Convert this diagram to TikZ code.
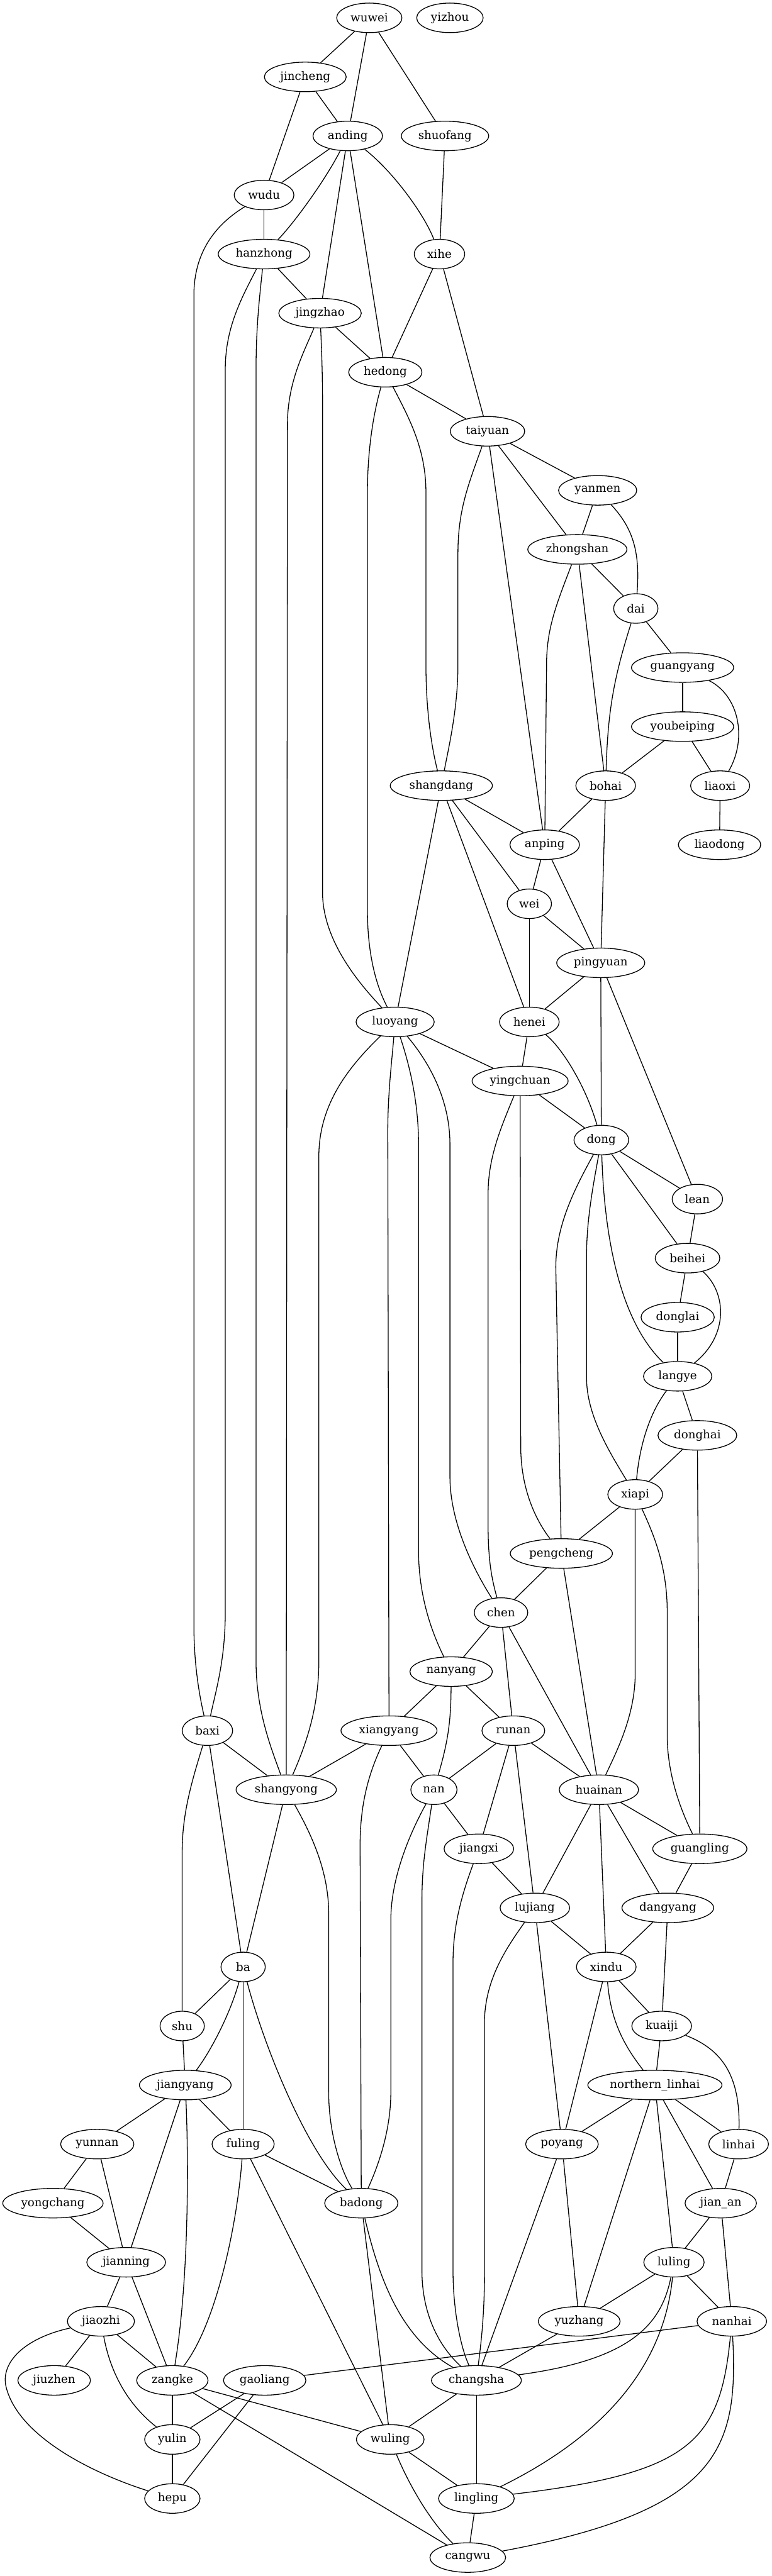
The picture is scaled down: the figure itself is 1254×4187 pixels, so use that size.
\documentclass[tikz,border=0pt]{standalone}
\usepackage{fontspec}
\setmainfont{DejaVu Serif}
\usetikzlibrary{shapes.geometric}
\newcommand{\gvnode}[5]{\node[gv,minimum width=#4*0.75pt] (#1) at (#2,#3) {#5};}
\begin{document}
\begin{tikzpicture}[x=0.75pt,y=-0.75pt,line width=1pt,
  gv/.style={ellipse,draw,line width=1pt,inner sep=0pt,minimum height=36pt,font=\fontsize{14}{16}\selectfont}]
\useasboundingbox (0,0) rectangle (1254,4187);
\gvnode{wuwei}{600}{29}{106}{wuwei}
\gvnode{yizhou}{731}{29}{108}{yizhou}
\gvnode{jincheng}{496}{125}{133}{jincheng}
\gvnode{anding}{565}{221}{113}{anding}
\gvnode{shuofang}{723}{221}{142}{shuofang}
\gvnode{wudu}{429}{317}{97}{wudu}
\gvnode{hanzhong}{429}{413}{149}{hanzhong}
\gvnode{xihe}{714}{413}{82}{xihe}
\gvnode{jingzhao}{520}{509}{134}{jingzhao}
\gvnode{hedong}{626}{605}{119}{hedong}
\gvnode{taiyuan}{792}{701}{121}{taiyuan}
\gvnode{yanmen}{971}{797}{127}{yanmen}
\gvnode{zhongshan}{938}{893}{161}{zhongshan}
\gvnode{dai}{1033}{989}{72}{dai}
\gvnode{guangyang}{1109}{1085}{166}{guangyang}
\gvnode{youbeiping}{1109}{1181}{166}{youbeiping}
\gvnode{shangdang}{717}{1277}{166}{shangdang}
\gvnode{bohai}{984}{1277}{97}{bohai}
\gvnode{liaoxi}{1170}{1277}{96}{liaoxi}
\gvnode{anping}{885}{1373}{113}{anping}
\gvnode{liaodong}{1169}{1373}{134}{liaodong}
\gvnode{wei}{860}{1469}{72}{wei}
\gvnode{pingyuan}{976}{1565}{143}{pingyuan}
\gvnode{luoyang}{642}{1661}{127}{luoyang}
\gvnode{henei}{860}{1661}{97}{henei}
\gvnode{yingchuan}{845}{1757}{156}{yingchuan}
\gvnode{dong}{977}{1853}{89}{dong}
\gvnode{lean}{1133}{1949}{82}{lean}
\gvnode{beihei}{1117}{2045}{105}{beihei}
\gvnode{donglai}{1101}{2141}{119}{donglai}
\gvnode{langye}{1101}{2237}{111}{langye}
\gvnode{donghai}{1133}{2333}{128}{donghai}
\gvnode{xiapi}{1032}{2429}{89}{xiapi}
\gvnode{pengcheng}{912}{2525}{166}{pengcheng}
\gvnode{chen}{814}{2621}{87}{chen}
\gvnode{nanyang}{733}{2717}{134}{nanyang}
\gvnode{baxi}{337}{2813}{82}{baxi}
\gvnode{xiangyang}{632}{2813}{156}{xiangyang}
\gvnode{runan}{834}{2813}{102}{runan}
\gvnode{shangyong}{465}{2909}{163}{shangyong}
\gvnode{nan}{705}{2909}{75}{nan}
\gvnode{huainan}{973}{2909}{129}{huainan}
\gvnode{jiangxi}{778}{3005}{113}{jiangxi}
\gvnode{guangling}{1137}{3005}{153}{guangling}
\gvnode{lujiang}{869}{3101}{113}{lujiang}
\gvnode{dangyang}{1085}{3101}{149}{dangyang}
\gvnode{ba}{395}{3197}{72}{ba}
\gvnode{xindu}{985}{3197}{97}{xindu}
\gvnode{shu}{296}{3293}{72}{shu}
\gvnode{kuaiji}{1075}{3293}{97}{kuaiji}
\gvnode{jiangyang}{301}{3389}{149}{jiangyang}
\gvnode{northernlinhai}{1064}{3389}{218}{northern\_linhai}
\gvnode{yunnan}{158}{3485}{119}{yunnan}
\gvnode{fuling}{395}{3485}{101}{fuling}
\gvnode{poyang}{913}{3485}{118}{poyang}
\gvnode{linhai}{1200}{3485}{97}{linhai}
\gvnode{yongchang}{86}{3581}{163}{yongchang}
\gvnode{badong}{587}{3581}{119}{badong}
\gvnode{jianan}{1171}{3581}{116}{jian\_an}
\gvnode{jianning}{205}{3677}{128}{jianning}
\gvnode{luling}{1095}{3677}{98}{luling}
\gvnode{jiaozhi}{164}{3773}{109}{jiaozhi}
\gvnode{yuzhang}{941}{3773}{133}{yuzhang}
\gvnode{nanhai}{1189}{3773}{113}{nanhai}
\gvnode{jiuzhen}{88}{3869}{118}{jiuzhen}
\gvnode{zangke}{280}{3869}{116}{zangke}
\gvnode{gaoliang}{430}{3869}{134}{gaoliang}
\gvnode{changsha}{774}{3869}{146}{changsha}
\gvnode{yulin}{280}{3965}{90}{yulin}
\gvnode{wuling}{634}{3965}{110}{wuling}
\gvnode{hepu}{280}{4061}{90}{hepu}
\gvnode{lingling}{774}{4061}{123}{lingling}
\gvnode{cangwu}{760}{4157}{123}{cangwu}
% edges
\draw (wuwei) -- (jincheng);
\draw (wuwei) -- (anding);
\draw (wuwei) -- (shuofang);
\draw (jincheng) -- (anding);
\draw (jincheng) -- (wudu);
\draw (anding) -- (wudu);
\draw (anding) .. controls (530,290) and (480,360) .. (hanzhong);
\draw (anding) -- (jingzhao);
\draw (anding) -- (hedong);
\draw (anding) .. controls (640,280) and (690,350) .. (xihe);
\draw (shuofang) -- (xihe);
\draw (wudu) -- (hanzhong);
\draw (wudu) .. controls (350,365) and (315,410) .. (315,480) -- (315,2640) .. controls (315,2710) and (325,2760) .. (baxi);
\draw (hanzhong) .. controls (395,480) and (366,530) .. (366,600) -- (366,2620) .. controls (366,2700) and (350,2750) .. (baxi);
\draw (hanzhong) -- (jingzhao);
\draw (hanzhong) .. controls (422,480) and (416,530) .. (416,600) -- (416,2700) .. controls (416,2780) and (440,2840) .. (shangyong);
\draw (xihe) -- (hedong);
\draw (xihe) -- (taiyuan);
\draw (jingzhao) -- (hedong);
\draw (jingzhao) .. controls (495,570) and (467,620) .. (467,690) -- (shangyong);
\draw (jingzhao) .. controls (522,560) and (524,600) .. (524,650) -- (524,1450) .. controls (524,1530) and (585,1600) .. (luoyang);
\draw (hedong) -- (taiyuan);
\draw (hedong) .. controls (610,660) and (597,720) .. (597,800) -- (597,1480) .. controls (597,1560) and (615,1610) .. (luoyang);
\draw (hedong) .. controls (665,680) and (692,730) .. (692,800) -- (692,1080) .. controls (692,1150) and (700,1210) .. (shangdang);
\draw (taiyuan) -- (yanmen);
\draw (taiyuan) -- (zhongshan);
\draw (taiyuan) .. controls (760,790) and (744,830) .. (744,900) -- (744,1080) .. controls (744,1150) and (730,1210) .. (shangdang);
\draw (taiyuan) -- (anping);
\draw (yanmen) -- (zhongshan);
\draw (yanmen) .. controls (1030,860) and (1040,900) .. (dai);
\draw (zhongshan) -- (dai);
\draw (zhongshan) -- (bohai);
\draw (zhongshan) .. controls (905,980) and (888,1020) .. (888,1080) -- (anping);
\draw (dai) -- (guangyang);
\draw (dai) to[bend right=8] (bohai);
\draw (guangyang) -- (youbeiping);
\draw (guangyang) .. controls (1200,1130) and (1215,1200) .. (liaoxi);
\draw (youbeiping) -- (liaoxi);
\draw (youbeiping) -- (bohai);
\draw (liaoxi) -- (liaodong);
\draw (shangdang) -- (anping);
\draw (shangdang) -- (wei);
\draw (shangdang) -- (henei);
\draw (shangdang) -- (luoyang);
\draw (bohai) -- (anping);
\draw (bohai) -- (pingyuan);
\draw (anping) -- (wei);
\draw (anping) -- (pingyuan);
\draw (wei) -- (pingyuan);
\draw (wei) -- (henei);
\draw (pingyuan) -- (henei);
\draw (pingyuan) -- (dong);
\draw (pingyuan) -- (lean);
\draw (henei) -- (yingchuan);
\draw (henei) .. controls (910,1700) and (950,1760) .. (dong);
\draw (luoyang) -- (yingchuan);
\draw (luoyang) .. controls (560,1740) and (518,1800) .. (518,1880) -- (518,2700) .. controls (518,2780) and (495,2840) .. (shangyong);
\draw (luoyang) .. controls (636,1730) and (630,1780) .. (630,1840) -- (xiangyang);
\draw (luoyang) .. controls (665,1730) and (680,1790) .. (680,1860) -- (680,2520) .. controls (680,2600) and (705,2660) .. (nanyang);
\draw (luoyang) .. controls (700,1730) and (731,1790) .. (731,1860) -- (731,2400) .. controls (731,2480) and (775,2560) .. (chen);
\draw (yingchuan) -- (dong);
\draw (yingchuan) .. controls (815,1830) and (793,1880) .. (793,1940) -- (793,2480) .. controls (793,2540) and (800,2570) .. (chen);
\draw (yingchuan) -- (846,2350) .. controls (846,2420) and (870,2470) .. (pengcheng);
\draw (dong) -- (lean);
\draw (dong) -- (beihei);
\draw (dong) .. controls (982,2020) and (1010,2150) .. (langye);
\draw (dong) .. controls (965,1920) and (953,1980) .. (953,2040) -- (953,2240) .. controls (953,2300) and (990,2360) .. (xiapi);
\draw (dong) .. controls (935,1930) and (903,1990) .. (903,2060) -- (pengcheng);
\draw (lean) -- (beihei);
\draw (beihei) -- (donglai);
\draw (beihei) .. controls (1180,2100) and (1185,2170) .. (langye);
\draw (donglai) -- (langye);
\draw (langye) -- (donghai);
\draw (langye) .. controls (1060,2290) and (1040,2340) .. (xiapi);
\draw (donghai) -- (xiapi);
\draw (donghai) -- (guangling);
\draw (xiapi) -- (pengcheng);
\draw (xiapi) -- (1032,2720) .. controls (1032,2790) and (1000,2850) .. (huainan);
\draw (xiapi) .. controls (1065,2500) and (1084,2550) .. (1084,2620) -- (1084,2820) .. controls (1084,2890) and (1110,2950) .. (guangling);
\draw (pengcheng) -- (chen);
\draw (pengcheng) -- (huainan);
\draw (chen) -- (nanyang);
\draw (chen) -- (runan);
\draw (chen) -- (huainan);
\draw (nanyang) -- (xiangyang);
\draw (nanyang) -- (runan);
\draw (nanyang) to[bend left=8] (nan);
\draw (baxi) -- (shangyong);
\draw (baxi) -- (ba);
\draw (baxi) .. controls (310,2900) and (296,2950) .. (296,3010) -- (shu);
\draw (xiangyang) -- (shangyong);
\draw (xiangyang) -- (nan);
\draw (xiangyang) .. controls (600,2880) and (585,2930) .. (585,3000) -- (badong);
\draw (runan) -- (nan);
\draw (runan) -- (huainan);
\draw (runan) -- (jiangxi);
\draw (runan) -- (lujiang);
\draw (shangyong) -- (ba);
\draw (shangyong) .. controls (505,2980) and (534,3040) .. (534,3110) -- (534,3400) .. controls (534,3470) and (555,3530) .. (badong);
\draw (nan) -- (jiangxi);
\draw (nan) .. controls (660,2990) and (635,3060) .. (635,3120) -- (635,3400) .. controls (635,3470) and (610,3530) .. (badong);
\draw (nan) .. controls (693,2990) and (685.5,3030) .. (685.5,3090) -- (685.5,3690) .. controls (685.5,3770) and (720,3820) .. (changsha);
\draw (huainan) -- (guangling);
\draw (huainan) -- (lujiang);
\draw (huainan) -- (dangyang);
\draw (huainan) -- (xindu);
\draw (jiangxi) -- (lujiang);
\draw (jiangxi) .. controls (750,3080) and (736,3130) .. (736,3190) -- (736,3690) .. controls (736,3760) and (750,3820) .. (changsha);
\draw (guangling) -- (dangyang);
\draw (lujiang) -- (xindu);
\draw (lujiang) -- (poyang);
\draw (lujiang) .. controls (820,3170) and (787,3220) .. (787,3290) -- (787,3700) .. controls (787,3770) and (780,3820) .. (changsha);
\draw (dangyang) -- (xindu);
\draw (dangyang) -- (kuaiji);
\draw (ba) -- (shu);
\draw (ba) .. controls (375,3270) and (345,3330) .. (jiangyang);
\draw (ba) -- (fuling);
\draw (ba) .. controls (430,3330) and (500,3500) .. (badong);
\draw (xindu) -- (kuaiji);
\draw (xindu) -- (poyang);
\draw (xindu) .. controls (992,3280) and (1010,3320) .. (northernlinhai);
\draw (shu) -- (jiangyang);
\draw (kuaiji) -- (northernlinhai);
\draw (kuaiji) .. controls (1170,3330) and (1203,3370) .. (linhai);
\draw (jiangyang) -- (yunnan);
\draw (jiangyang) -- (fuling);
\draw (jiangyang) -- (jianning);
\draw (jiangyang) .. controls (306,3500) and (308,3700) .. (zangke);
\draw (northernlinhai) -- (poyang);
\draw (northernlinhai) -- (linhai);
\draw (northernlinhai) -- (jianan);
\draw (northernlinhai) -- (luling);
\draw (northernlinhai) -- (yuzhang);
\draw (yunnan) -- (yongchang);
\draw (yunnan) -- (jianning);
\draw (fuling) -- (badong);
\draw (fuling) .. controls (385,3620) and (350,3780) .. (zangke);
\draw (fuling) -- (wuling);
\draw (poyang) -- (yuzhang);
\draw (poyang) -- (changsha);
\draw (linhai) -- (jianan);
\draw (badong) .. controls (615,3700) and (650,3800) .. (changsha);
\draw (badong) -- (wuling);
\draw (yongchang) -- (jianning);
\draw (jianan) -- (luling);
\draw (jianan) -- (nanhai);
\draw (jianning) -- (jiaozhi);
\draw (jianning) -- (zangke);
\draw (luling) -- (yuzhang);
\draw (luling) -- (nanhai);
\draw (luling) .. controls (1075,3775) and (1030,3835) .. (changsha);
\draw (luling) .. controls (1080,3830) and (1000,3950) .. (lingling);
\draw (jiaozhi) -- (jiuzhen);
\draw (jiaozhi) -- (zangke);
\draw (jiaozhi) .. controls (180,3860) and (210,3910) .. (yulin);
\draw (jiaozhi) .. controls (40,3800) and (0,3840) .. (10,3880) .. controls (30,3960) and (150,4020) .. (hepu);
\draw (yuzhang) -- (changsha);
\draw (nanhai) -- (gaoliang);
\draw (nanhai) .. controls (1170,3970) and (1120,4020) .. (lingling);
\draw (nanhai) .. controls (1200,3980) and (1170,4080) .. (cangwu);
\draw (zangke) -- (yulin);
\draw (zangke) -- (wuling);
\draw (zangke) -- (cangwu);
\draw (gaoliang) -- (yulin);
\draw (gaoliang) -- (hepu);
\draw (changsha) -- (wuling);
\draw (changsha) -- (lingling);
\draw (yulin) -- (hepu);
\draw (wuling) -- (lingling);
\draw (wuling) .. controls (665,4040) and (700,4100) .. (cangwu);
\draw (lingling) -- (cangwu);
\end{tikzpicture}
\end{document}
